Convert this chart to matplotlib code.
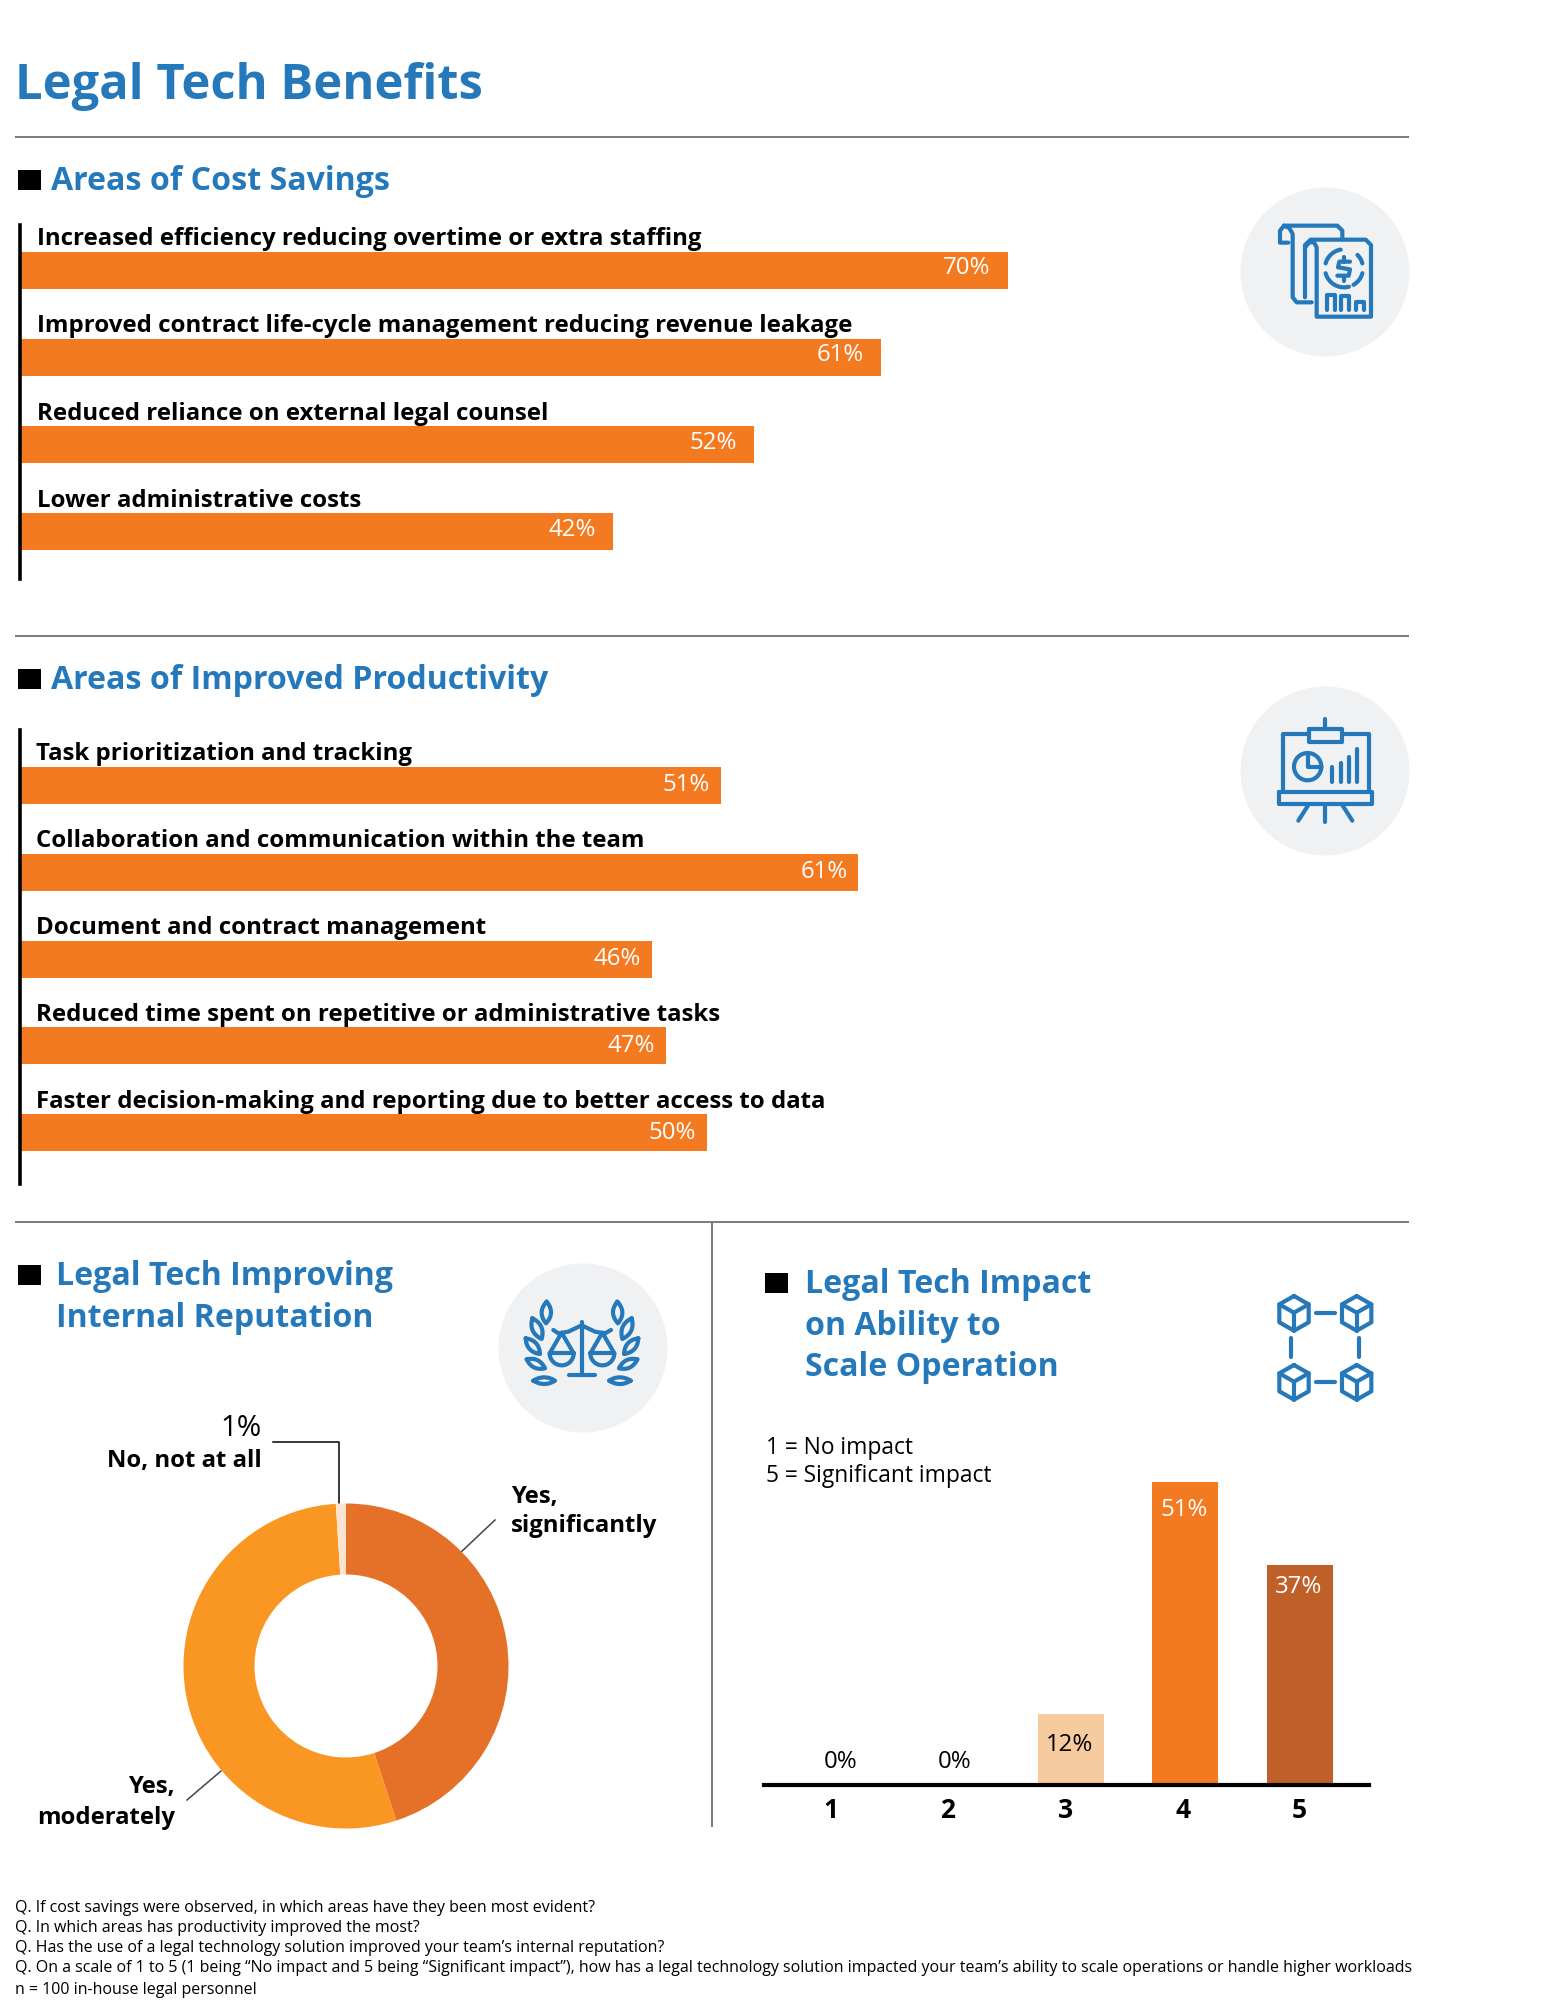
import numpy as np
import matplotlib
matplotlib.use("Agg")
import matplotlib.pyplot as plt
from matplotlib.font_manager import FontProperties
from matplotlib.textpath import TextPath
from matplotlib.patches import Circle, Rectangle

W, H = 1546, 2011
FONT = "Open Sans"
plt.rcParams["font.family"] = [FONT, "DejaVu Sans"]

BLUE = "#2579BB"
ORANGE = "#F47A22"
GREY = "#F0F1F3"
RULE = "#7A7A7A"

# ---- data ----
cost_labels = ["Increased efficiency reducing overtime or extra staffing",
               "Improved contract life-cycle management reducing revenue leakage",
               "Reduced reliance on external legal counsel",
               "Lower administrative costs"]
cost_values = [70, 61, 52, 42]
prod_labels = ["Task prioritization and tracking",
               "Collaboration and communication within the team",
               "Document and contract management",
               "Reduced time spent on repetitive or administrative tasks",
               "Faster decision-making and reporting due to better access to data"]
prod_values = [51, 61, 46, 47, 50]
rep_labels = ["Yes, significantly", "Yes, moderately", "No, not at all"]
rep_values = [45, 54, 1]
rep_colors = ["#E57027", "#F99722", "#FBE3D2"]
scale_labels = ["1", "2", "3", "4", "5"]
scale_values = [0, 0, 12, 51, 37]
scale_colors = ["#F7CBA0", "#F7CBA0", "#F7CBA0", ORANGE, "#BF6028"]
footnotes = ["Q. If cost savings were observed, in which areas have they been most evident?",
             "Q. In which areas has productivity improved the most?",
             "Q. Has the use of a legal technology solution improved your team\u2019s internal reputation?",
             "Q. On a scale of 1 to 5 (1 being \u201cNo impact and 5 being \u201cSignificant impact\u201d), how has a legal technology solution impacted your team\u2019s ability to scale operations or handle higher workloads",
             "n = 100 in-house legal personnel"]


def fit(s, weight, target_px):
    tp = TextPath((0, 0), s, size=100, prop=FontProperties(family=FONT, weight=weight))
    w_px = tp.get_extents().width * 100 / 72
    return 100 * target_px / w_px


FS_TITLE = fit("Legal Tech Benefits", "bold", 461)
FS_HEAD = fit("Areas of Improved Productivity", "bold", 497)
FS_LABEL = fit(cost_labels[1], "bold", 813)
FS_BOLD = fit("significantly", "bold", 145)
FS_BODY = fit("5 = Significant impact", "normal", 224)
FS_NOTE = fit(footnotes[3], "normal", 1394)
FS_VAL = fit("70%", "normal", 45)
FS_BIG = fit("45%", "normal", 56)

fig = plt.figure(figsize=(W / 100, H / 100), dpi=100, facecolor="white")


def axes_px(x0, y0, x1, y1, **kw):
    return fig.add_axes([x0 / W, 1 - y1 / H, (x1 - x0) / W, (y1 - y0) / H], **kw)


bg = axes_px(0, 0, W, H)
bg.set_xlim(0, W)
bg.set_ylim(H, 0)
bg.axis("off")


def txt(x, y, s, size, color="black", weight="normal", ha="left", va="center", ax=bg):
    return ax.text(x, y + 1.5, s, fontsize=size, color=color, fontweight=weight, ha=ha, va=va)


def rule(x0, y0, x1, y1, lw=1.4, color=RULE):
    bg.plot([x0, x1], [y0, y1], color=color, lw=lw, solid_capstyle="butt")


# ---- heading and rules ----
txt(15, 85, "Legal Tech Benefits", FS_TITLE, BLUE, "bold")
rule(15, 137, 1409, 137)
rule(15, 636, 1409, 636)
rule(15, 1222, 1409, 1222)
rule(712, 1222, 712, 1827)


def heading(x_sq, y_sq, x_t, lines, ys):
    bg.add_patch(Rectangle((x_sq, y_sq), 23, 20, color="black", lw=0))
    for s, y in zip(lines, ys):
        txt(x_t, y, s, FS_HEAD, BLUE, "bold")


heading(18, 170, 51, ["Areas of Cost Savings"], [180])
heading(18, 669, 51, ["Areas of Improved Productivity"], [679])
heading(18, 1265, 56, ["Legal Tech Improving", "Internal Reputation"], [1275, 1317])
heading(765, 1273, 805, ["Legal Tech Impact", "on Ability to", "Scale Operation"], [1283, 1325, 1366])


# ---- horizontal bars ----
def hbars(y0, y1, px_per, first, step, labels, values, val_off, lab_x, val_up):
    x0 = 20
    x1 = 1420
    ax = axes_px(x0, y0, x1, y1)
    ax.patch.set_alpha(0)
    ax.set_xlim(0, (x1 - x0) / px_per)
    ax.set_ylim((y1 - first) / step, -(first - y0) / step)
    pos = np.arange(len(values))
    ax.barh(pos, values, height=37 / step, color=ORANGE, lw=0, left=0)
    for s in ["top", "right", "bottom"]:
        ax.spines[s].set_visible(False)
    ax.spines["left"].set_linewidth(2.6)
    ax.spines["left"].set_color("black")
    ax.set_xticks([])
    ax.set_yticks([])
    for i, (l, v) in enumerate(zip(labels, values)):
        ax.annotate(l, (0, i), xytext=(lab_x, 31), textcoords="offset pixels",
                    fontsize=FS_LABEL, fontweight="bold", color="black", ha="left", va="center")
        ax.annotate(f"{v}%", (v, i), xytext=(val_off, val_up), textcoords="offset pixels",
                    fontsize=FS_VAL, color="white", ha="right", va="center")
    return ax


hbars(225, 579, 14.11, 270, 87.3, cost_labels, cost_values, -17, 17, 2)
hbars(730, 1184, 13.745, 785.5, 86.8, prod_labels, prod_values, -11, 16, 0)

# ---- donut ----
cx, cy, R = 346, 1666, 162.5
dax = axes_px(cx - R, cy - R, cx + R, cy + R)
dax.pie(rep_values, colors=rep_colors, startangle=90, counterclock=False, radius=1,
        wedgeprops=dict(width=1 - 91.5 / 162.5, lw=0))
dax.set_xlim(-1, 1)
dax.set_ylim(-1, 1)
dax.set_aspect("equal")
# leaders
bg.plot([273, 339, 339], [1442, 1442, 1503], color="black", lw=1.1)
bg.plot([459, 495], [1554, 1520], color="#444444", lw=1.1)
bg.plot([221, 187], [1771, 1800], color="#444444", lw=1.1)
txt(262, 1427, f"{rep_values[2]}%", FS_BIG, ha="right")
txt(262, 1460, rep_labels[2], FS_BOLD, weight="bold", ha="right")
txt(511, 1495, "Yes,", FS_BOLD, weight="bold")
txt(511, 1525, "significantly", FS_BOLD, weight="bold")
txt(175, 1786, "Yes,", FS_BOLD, weight="bold", ha="right")
txt(175, 1817, "moderately", FS_BOLD, weight="bold", ha="right")
txt(434, 1578, f"{rep_values[0]}%", FS_BIG, "white", ha="center")
txt(245, 1744, f"{rep_values[1]}%", FS_BIG, "white", ha="center")

# ---- column chart ----
x0, x1 = 764, 1369
step = 114.5
first = 841.5
base = 1785
top = 1482
cax = axes_px(x0, top, x1, base)
cax.patch.set_alpha(0)
cax.set_xlim((x0 - first) / step, (x1 - first) / step)
cax.set_ylim(0, max(scale_values))
pos = np.arange(5)
cax.bar(pos, scale_values, width=66 / step, color=scale_colors, lw=0)
for s in ["top", "right", "left"]:
    cax.spines[s].set_visible(False)
cax.spines["bottom"].set_linewidth(3)
cax.spines["bottom"].set_color("black")
cax.set_yticks([])
cax.set_xticks(pos + np.array([-0.09, -0.07, -0.04, -0.02, 0.0]))
cax.set_xticklabels(scale_labels, fontsize=19, fontweight="bold")
cax.tick_params(axis="x", length=0, pad=9)
val_down = [23, 23, -31, -28, -22]
for i, v in enumerate(scale_values):
    cax.annotate(f"{v}%", (i, v), xytext=(-1, val_down[i]), textcoords="offset pixels",
                 fontsize=FS_VAL, color="white" if v > 20 else "black", ha="center", va="center")
txt(766, 1446, "1 = No impact", FS_BODY)
txt(766, 1475, "5 = Significant impact", FS_BODY)

# ---- footnotes ----
for s, y in zip(footnotes, [1906, 1926, 1947, 1967, 1989]):
    txt(15, y, s, FS_NOTE)


# ---- icons ----
def tf(ox, oy):
    return lambda p: (ox + p[0] / 3, oy + p[1] / 3)


def stroke(pts, t, lw=3.0, close=False):
    q = [t(p) for p in pts]
    if close:
        q.append(q[0])
    bg.plot([a for a, _ in q], [b for _, b in q], color=BLUE, lw=lw,
            solid_capstyle="round", solid_joinstyle="round")


def arc(c, r, a0, a1, t, lw=3.0):
    aa = np.radians(np.linspace(a0, a1, 40))
    stroke([(c[0] + r * np.cos(a), c[1] - r * np.sin(a)) for a in aa], t, lw)


def leaf(a, b, bulge, t, lw=3.0):
    a = np.array(a, float)
    b = np.array(b, float)
    m = (a + b) / 2
    d = b - a
    n = np.array([-d[1], d[0]]) / np.hypot(*d)
    c1, c2 = m + n * bulge, m - n * bulge
    s = np.linspace(0, 1, 20)[:, None]
    p1 = (1 - s) ** 2 * a + 2 * s * (1 - s) * c1 + s ** 2 * b
    p2 = (1 - s) ** 2 * b + 2 * s * (1 - s) * c2 + s ** 2 * a
    stroke([tuple(p) for p in np.vstack([p1, p2])], t, lw)


for c in [(1325, 272), (1325, 771), (583, 1348)]:
    bg.add_patch(Circle(c, 84.5, color=GREY, lw=0))

# invoice
t = tf(1180, 160)
stroke([(325, 248), (300, 248), (300, 212), (312, 197), (472, 197), (487, 212), (487, 238)], t)
stroke([(312, 197), (328, 204), (338, 222), (338, 412), (350, 427), (395, 427)], t)
stroke([(375, 412), (375, 255), (392, 239), (557, 239), (573, 255), (573, 470), (410, 470), (410, 262), (402, 247), (388, 247), (375, 262)], t)
arc((492, 325), 57, 100, 165, t)
arc((492, 325), 57, 195, 285, t)
arc((492, 325), 57, 300, 345, t)
arc((492, 325), 57, 15, 45, t)
stroke([(510, 305), (478, 305), (474, 322), (510, 328), (506, 347), (472, 347)], t)
stroke([(491, 290), (491, 305)], t)
stroke([(491, 347), (491, 362)], t)
stroke([(440, 450), (440, 405), (465, 405), (465, 450)], t)
stroke([(483, 450), (483, 408), (508, 408), (508, 450)], t)
stroke([(528, 450), (528, 425), (553, 425), (553, 450)], t)

# presentation board
t = tf(1180, 660)
stroke([(308, 392), (308, 222), (385, 222)], t)
stroke([(488, 222), (567, 222), (567, 392)], t)
stroke([(388, 208), (485, 208), (485, 245), (388, 245)], t, close=True)
stroke([(436, 178), (436, 206)], t)
arc((383, 320), 41, 0, 360, t)
stroke([(383, 284), (383, 320), (420, 320)], t)
for x, y in [(457, 322), (482, 308), (507, 292), (531, 267)]:
    stroke([(x, y), (x, 367)], t)
stroke([(297, 397), (576, 397), (576, 431), (297, 431)], t, close=True)
stroke([(385, 435), (355, 482)], t)
stroke([(436, 435), (436, 487)], t)
stroke([(487, 435), (517, 482)], t)

# scales and laurel
t = tf(470, 1240)
stroke([(250, 270), (265, 280), (295, 275), (335, 256), (375, 275), (405, 280), (423, 270)], t)
stroke([(335, 245), (335, 402)], t)
stroke([(298, 404), (375, 404)], t)
for c in (275, 397):
    stroke([(c - 36, 340), (c, 278), (c + 36, 340)], t)
    stroke([(c - 36, 340), (c + 36, 340)], t)
    arc((c, 340), 36, 180, 360, t)
leaves = [((230, 185), (228, 250), 28), ((187, 235), (215, 297), 28), ((167, 295), (210, 342), 26),
          ((170, 358), (225, 385), 24), ((190, 422), (255, 422), 20)]
for a, b, g in leaves:
    leaf(a, b, g, t)
    leaf((672 - a[0], a[1]), (672 - b[0], b[1]), g, t)

# cubes
t = tf(1230, 1250)
for c in [(192, 190), (380, 190), (192, 397), (380, 397)]:
    x, y = c
    stroke([(x, y - 52), (x + 44, y - 27), (x + 44, y + 27), (x, y + 52), (x - 44, y + 27), (x - 44, y - 27)], t, close=True)
    stroke([(x - 44, y - 27), (x, y - 2), (x + 44, y - 27)], t)
    stroke([(x, y - 2), (x, y + 52)], t)
stroke([(258, 189), (315, 189)], t)
stroke([(258, 397), (315, 397)], t)
stroke([(184, 265), (184, 322)], t)
stroke([(388, 265), (388, 322)], t)

fig.savefig("out.png", dpi=100)
